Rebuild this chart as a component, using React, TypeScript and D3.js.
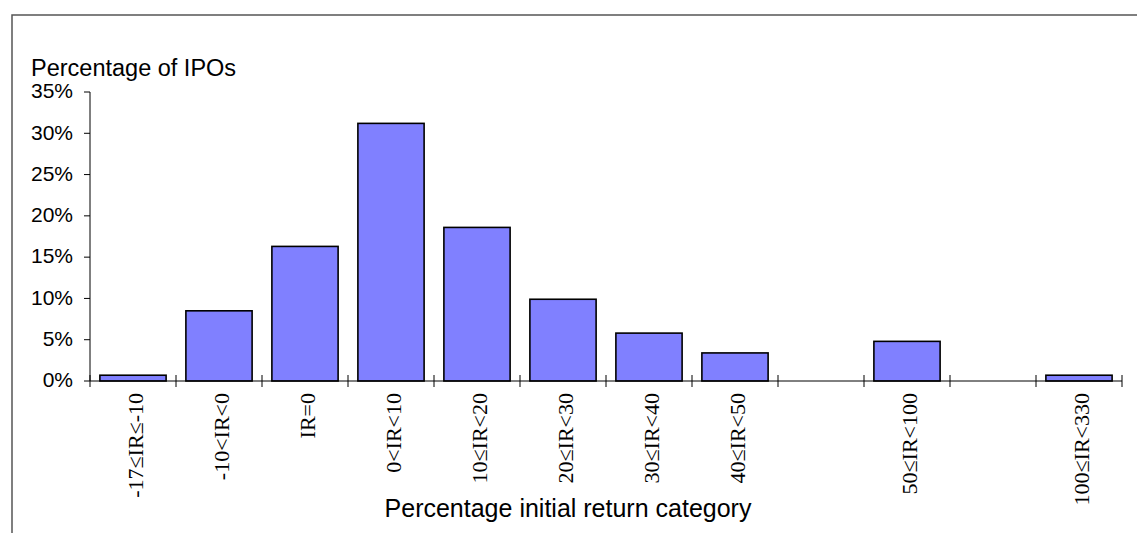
import React from 'react';
import * as d3 from 'd3';

// categories along the x axis (empty strings are the blank slots in the original)
const categories = [
  '-17≤IR≤-10', '-10<IR<0', 'IR=0', '0<IR<10', '10≤IR<20', '20≤IR<30',
  '30≤IR<40', '40≤IR<50', 'gap1', '50≤IR<100', 'gap2', '100≤IR<330',
];
// percentage of IPOs in each category (null = no bar)
const shares = [0.7, 8.5, 16.3, 31.2, 18.6, 9.9, 5.8, 3.4, null, 4.8, null, 0.7];
const yTicks = [0, 5, 10, 15, 20, 25, 30, 35];

const App = () => {
  const width = 1137, height = 533;
  const margin = { left: 90, right: 15, top: 92, bottom: 152 };

  const x = d3.scaleBand<string>()
    .domain(categories)
    .range([margin.left, width - margin.right])
    .padding(0);

  const y = d3.scaleLinear()
    .domain([0, 35])
    .range([height - margin.bottom, margin.top]);

  const bw = x.bandwidth();
  const barInset = bw * 0.115;
  const y0 = y(0);

  // tick positions on x: band boundaries
  const xTicks = categories.map(c => x(c) as number).concat([x.range()[1]]);

  return (
    <div>
      <style>{`body{margin:0}`}</style>
      <svg width={width} height={height} style={{ display: 'block' }}>
        {/* outer frame, cut off at right and bottom */}
        <rect x={12} y={15} width={width + 20} height={height + 20}
          fill="white" stroke="#555" strokeWidth={1.5} />

        <text x={31} y={76} fontFamily="Liberation Sans, Arial, sans-serif"
          fontSize={23.5} fill="#000">Percentage of IPOs</text>

        {/* bars */}
        {categories.map((c, i) => shares[i] == null ? null : (
          <rect key={c}
            x={(x(c) as number) + barInset}
            y={y(shares[i] as number)}
            width={bw - 2 * barInset}
            height={y0 - y(shares[i] as number)}
            fill="#8080FF" stroke="#000" strokeWidth={1.6} />
        ))}

        {/* y axis */}
        <line x1={margin.left} x2={margin.left} y1={y(35)} y2={y0} stroke="#000" strokeWidth={1} />
        {yTicks.map(t => (
          <g key={t}>
            <line x1={margin.left - 6} x2={margin.left} y1={y(t)} y2={y(t)} stroke="#000" />
            <text x={73} y={y(t)} dy="0.3em" textAnchor="end"
              fontFamily="Liberation Sans, Arial, sans-serif" fontSize={21} fill="#000">
              {t}%
            </text>
          </g>
        ))}

        {/* x axis */}
        <line x1={margin.left} x2={x.range()[1]} y1={y0} y2={y0} stroke="#000" strokeWidth={1} />
        {xTicks.map((t, i) => (
          <line key={i} x1={t} x2={t} y1={y0 - 6} y2={y0 + 6} stroke="#000" />
        ))}
        {categories.map(c => c.startsWith('gap') ? null : (
          <text key={c}
            transform={`translate(${(x(c) as number) + bw / 2 + 2},${393}) rotate(-90)`}
            dy="0.35em" textAnchor="end"
            fontFamily="Liberation Serif, Times New Roman, serif" fontSize={22} fill="#000">
            {c}
          </text>
        ))}

        <text x={568} y={517} textAnchor="middle"
          fontFamily="Liberation Sans, Arial, sans-serif" fontSize={25} fill="#000">
          Percentage initial return category
        </text>
      </svg>
    </div>
  );
};

export default App;
